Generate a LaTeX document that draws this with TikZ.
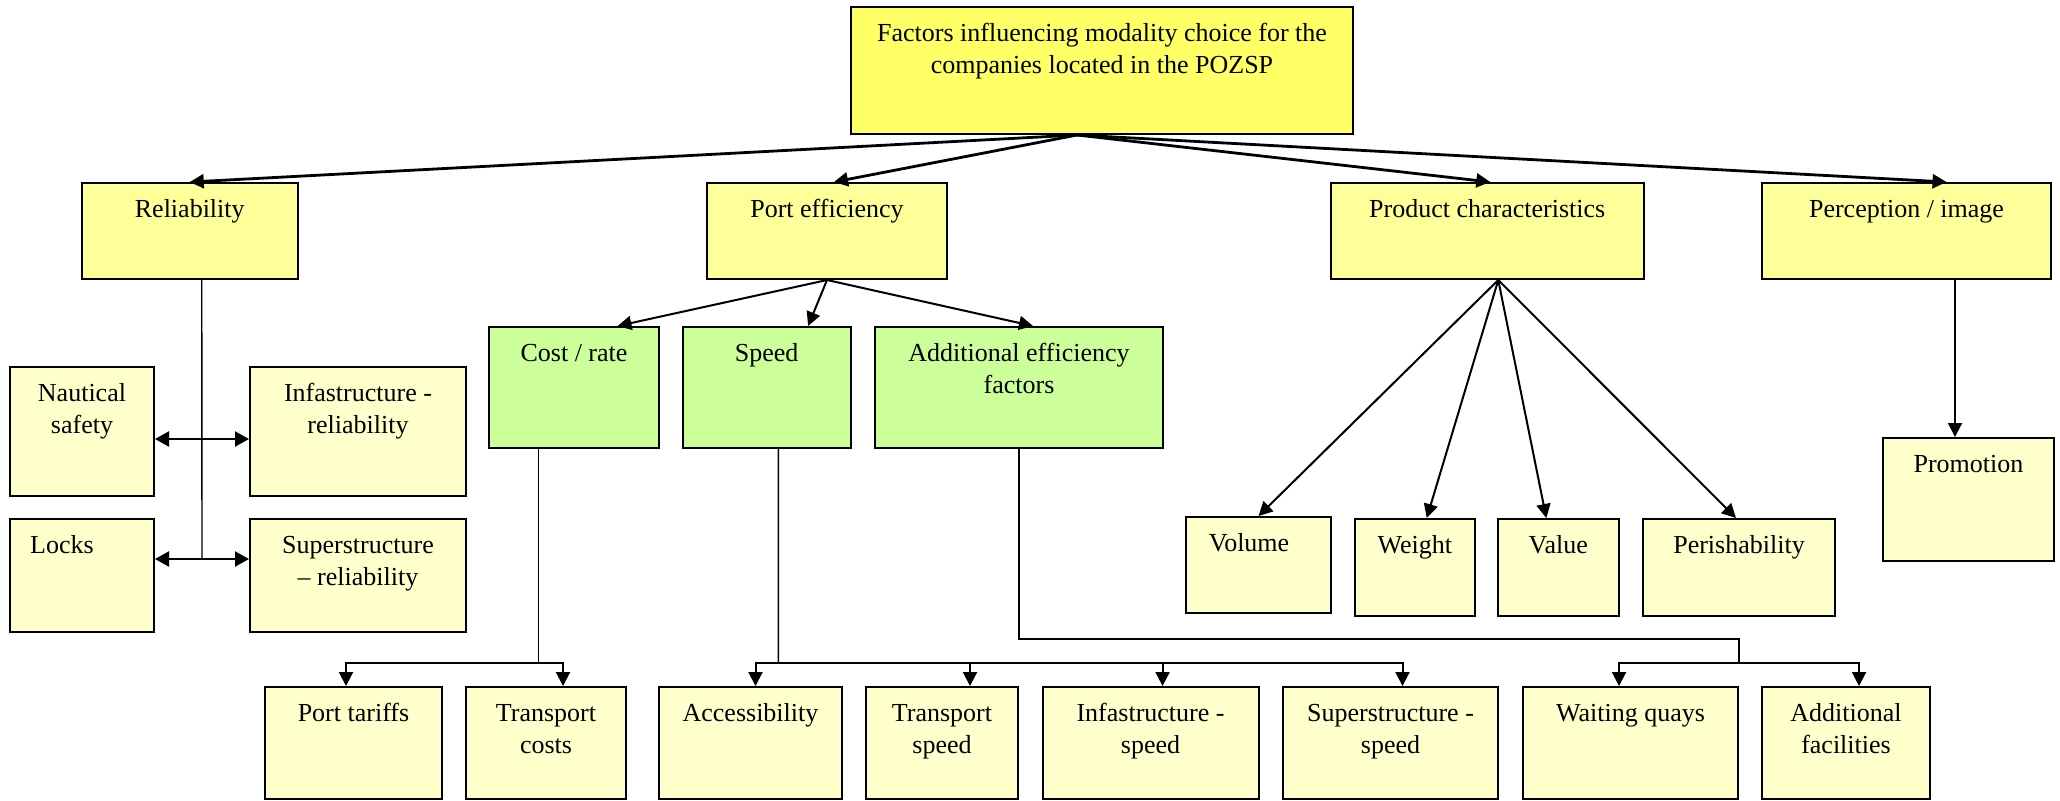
\documentclass[tikz,border=0pt]{standalone}
\usepackage{fontspec}
\setmainfont{Liberation Serif}
\usetikzlibrary{arrows.meta,calc,fit}
\definecolor{topyel}{HTML}{FFFF66}
\definecolor{midyel}{HTML}{FFFF99}
\definecolor{grnfill}{HTML}{CCFF99}
\definecolor{leafyel}{HTML}{FFFFCC}
\newcommand\mkbox[8]{%
  \node[#6, fit={(#2,#3) (#4,#5)}] (#1) {};
  \node[lbl] (#1-t) at ($(#1.north)+(#7,35)$) {\begin{tabular}[t]{@{}c@{}}#8\end{tabular}};}
\begin{document}
\begin{tikzpicture}[x=0.5pt,y=-0.5pt,
  boxbase/.style={draw=black, line width=1pt, inner sep=0pt},
  topbox/.style={boxbase, fill=topyel},
  midbox/.style={boxbase, fill=midyel},
  grnbox/.style={boxbase, fill=grnfill},
  leafbox/.style={boxbase, fill=leafyel},
  lbl/.style={anchor=base, font=\fontsize{13}{16}\selectfont, inner sep=0pt},
  toparr/.style={-{Triangle[length=7pt,width=7pt]}, line width=1.4pt},
  arr/.style={-{Triangle[length=7pt,width=7pt]}, line width=1pt},
  darr/.style={{Triangle[length=7pt,width=7.5pt]}-{Triangle[length=7pt,width=7.5pt]}, line width=1.1pt},
  thinline/.style={line width=0.7pt}
]
\useasboundingbox (0,0) rectangle (2060,800);

% boxes
\mkbox{top}{851}{7}{1353}{134}{topbox}{0}{Factors influencing modality choice for the\\companies located in the POZSP}
\mkbox{rel}{81.5}{183}{298}{279}{midbox}{0}{Reliability}
\mkbox{pe}{707}{183}{947}{279}{midbox}{0}{Port efficiency}
\mkbox{pc}{1331}{183}{1643.5}{279}{midbox}{0}{Product characteristics}
\mkbox{pi}{1762}{183}{2051}{279}{midbox}{0}{Perception / image}
\mkbox{cost}{489}{327}{659}{448}{grnbox}{0}{Cost / rate}
\mkbox{speed}{682.5}{327}{850.7}{448}{grnbox}{0}{Speed}
\mkbox{add}{875}{327}{1163}{448}{grnbox}{0}{Additional efficiency\\factors}
\mkbox{naut}{10}{367}{154}{496}{leafbox}{0}{Nautical\\safety}
\mkbox{infra}{250}{367}{466}{496}{leafbox}{0}{Infastructure -\\reliability}
\mkbox{locks}{10}{519}{154}{632}{leafbox}{-20}{Locks}
\mkbox{super}{250}{519}{466}{632}{leafbox}{0}{Superstructure\\– reliability}
\mkbox{tariff}{265}{687}{442}{799}{leafbox}{0}{Port tariffs}
\mkbox{tcost}{466}{687}{626}{799}{leafbox}{0}{Transport\\costs}
\mkbox{access}{659}{687}{842}{799}{leafbox}{0}{Accessibility}
\mkbox{tspeed}{866}{687}{1018}{799}{leafbox}{0}{Transport\\speed}
\mkbox{ispeed}{1042.5}{687}{1258.6}{799}{leafbox}{0}{Infastructure -\\speed}
\mkbox{sspeed}{1283}{687}{1498}{799}{leafbox}{0}{Superstructure -\\speed}
\mkbox{wait}{1523}{687}{1738}{799}{leafbox}{0}{Waiting quays}
\mkbox{addfac}{1762}{687}{1930}{799}{leafbox}{0}{Additional\\facilities}
\mkbox{volume}{1186}{517}{1331}{613}{leafbox}{-9.5}{Volume}
\mkbox{weight}{1354.5}{519}{1475}{616}{leafbox}{0}{Weight}
\mkbox{value}{1498}{519}{1618.6}{616}{leafbox}{0}{Value}
\mkbox{perish}{1643}{519}{1835}{616}{leafbox}{0}{Perishability}
\mkbox{promo}{1883}{438}{2054}{561}{leafbox}{0}{Promotion}

% top level
\coordinate (tsrc) at (1077,135);
\draw[toparr] (tsrc) -- (rel.north);
\draw[toparr] (tsrc) -- ($(pe.north)+(7,0)$);
\draw[toparr] (tsrc) -- ($(pc.north)+(3,0)$);
\draw[toparr] (tsrc) -- ($(pi.north)+(40,0)$);

% port efficiency
\draw[arr] (pe.south) -- ($(cost.north)+(43.5,0)$);
\draw[arr] (pe.south) -- ($(speed.north)+(41.5,0)$);
\draw[arr] (pe.south) -- ($(add.north)+(14,0)$);

% product characteristics
\coordinate (psrc) at ($(pc.south)+(11,0)$);
\draw[arr] (psrc) -- (volume.north);
\draw[arr] (psrc) -- ($(weight.north)+(12,0)$);
\draw[arr] (psrc) -- ($(value.north)+(-12,0)$);
\draw[arr] (psrc) -- ($(perish.north)+(-3,0)$);

% perception
\draw[arr] ($(pi.south)+(48.5,0)$) -- ($(promo.north)+(-13.5,0)$);

% reliability
\coordinate (relend) at (202,559);
\draw[thinline] ($(rel.south)+(12,0)$) -- (relend);
\draw[darr] ($(naut.east)+(0,7.5)$) -- ($(infra.west)+(0,7.5)$);
\draw[darr] ($(locks.east)+(0,-16.5)$) -- ($(super.west)+(0,-16.5)$);

% cost / rate
\coordinate (cj) at (538.6,663);
\draw[thinline] ($(cost.south)+(-35.4,0)$) -- (cj);
\draw[arr] (cj) -| ($(tariff.north)+(-7.5,0)$);
\draw[arr] (cj) -| ($(tcost.north)+(17,0)$);

% speed
\coordinate (sj) at (778.4,663);
\draw[thinline] ($(speed.south)+(11.8,0)$) -- (sj);
\draw[arr] (sj) -| ($(access.north)+(5,0)$);
\draw[arr] (sj) -| ($(tspeed.north)+(28,0)$);
\draw[arr] (sj) -| ($(ispeed.north)+(12,0)$);
\draw[arr] (sj) -| ($(sspeed.north)+(12,0)$);

% additional efficiency factors
\coordinate (aj2) at (1739,639);
\coordinate (aj3) at (1739,663);
\draw[thinline] (add.south) |- (aj2) -- (aj3);
\draw[arr] (aj3) -| ($(wait.north)+(-11.5,0)$);
\draw[arr] (aj3) -| ($(addfac.north)+(13,0)$);
\end{tikzpicture}
\end{document}
